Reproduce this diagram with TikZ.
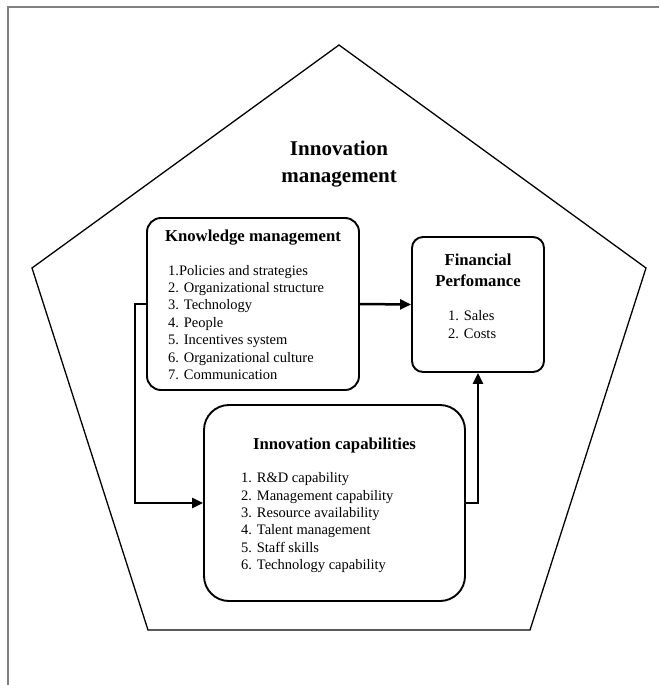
\documentclass[tikz,border=0pt]{standalone}
\usepackage{fontspec}
\setmainfont{Liberation Serif}
\usetikzlibrary{arrows.meta}
\begin{document}
\begin{tikzpicture}[x=1pt,y=-1pt,
  frameline/.style={draw=black!50,line width=1.4pt},
  pent/.style={draw=black,line width=1.3pt},
  box/.style={draw=black,line width=1.9pt,fill=none,inner sep=0pt},
  conn/.style={draw=black,line width=2.5pt,-{Triangle[length=11pt,width=10pt]}},
  ttl/.style={font=\bfseries\fontsize{21}{25}\selectfont,inner sep=0pt,anchor=base},
  head/.style={font=\bfseries\fontsize{16.7}{20}\selectfont,inner sep=0pt,anchor=base},
  item/.style={font=\fontsize{14.5}{17.4}\selectfont,inner sep=0pt,anchor=base west}
]
\useasboundingbox (0,0) rectangle (659,685);
% frame (top and left only)
\coordinate (f1) at (659,7);
\coordinate (f2) at (8,7);
\coordinate (f3) at (8,685);
\draw[frameline] (f1) -- (f2) -- (f3);
% pentagon
\coordinate (p1) at (339,45);
\coordinate (p2) at (646,268);
\coordinate (p3) at (530,630);
\coordinate (p4) at (148,630);
\coordinate (p5) at (32,268);
\draw[pent] (p1) -- (p2) -- (p3) -- (p4) -- (p5) -- cycle;
% title
\node[ttl] (t1) at (339,155) {Innovation};
\node[ttl] (t2) at (339,182) {management};
% boxes
\node[box,rounded corners=14pt,minimum width=212pt,minimum height=172pt] (km) at (253,304) {};
\node[box,rounded corners=11pt,minimum width=132pt,minimum height=135pt] (fp) at (478,304.5) {};
\node[box,rounded corners=25pt,minimum width=261pt,minimum height=196pt] (ic) at (334.5,503) {};
% KM text
\node[head] (kmh) at (253,241) {Knowledge management};
\foreach \t [count=\i from 0] in {1.Policies and strategies,2. Organizational structure,3. Technology,4. People,5. Incentives system,6. Organizational culture,7. Communication}
  \node[item] (km\i) at (168,275+17.4*\i) {\t};
% FP text
\node[head] (fph1) at (478,265.7) {Financial};
\node[head] (fph2) at (478,286.7) {Perfomance};
\node[item] (fp1) at (448,320.7) {1. Sales};
\node[item] (fp2) at (448,338.3) {2. Costs};
% IC text
\node[head] (ich) at (334.5,449) {Innovation capabilities};
\foreach \t [count=\i from 0] in {1. R\&D capability,2. Management capability,3. Resource availability,4. Talent management,5. Staff skills,6. Technology capability}
  \node[item] (ic\i) at (241,482.7+17.4*\i) {\t};
% connectors
\coordinate (c1) at (135,304);
\coordinate (c2) at (135,503);
\coordinate (c3) at (478,503);
\draw[conn] (km.east) -- (fp.west);
\draw[conn] (km.west) -- (c1) -- (c2) -- (ic.west);
\draw[conn] (ic.east) -- (c3) -- (fp.south);
\end{tikzpicture}
\end{document}
